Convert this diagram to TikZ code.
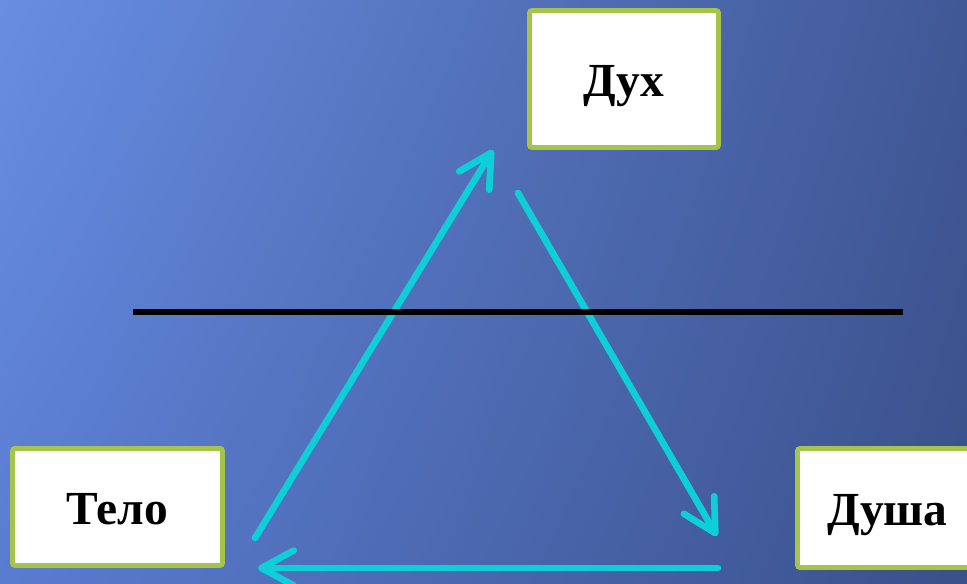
\documentclass[tikz,border=0pt]{standalone}
\usepackage{fontspec}
\setmainfont{Liberation Serif}
\usetikzlibrary{arrows.meta,shadings}

\definecolor{boxgreen}{RGB}{166,196,74}
\definecolor{arrowcyan}{RGB}{14,206,216}
\definecolor{bgtl}{RGB}{104,142,226}
\definecolor{bgtr}{RGB}{64,88,150}
\definecolor{bgbl}{RGB}{90,124,208}
\definecolor{bgbr}{RGB}{58,80,138}

\begin{document}
\begin{tikzpicture}[x=0.2mm, y=-0.2mm,
    part/.style={draw=boxgreen, fill=white, line width=2.8pt, rounded corners=1.5pt,
                 text height=20pt, text depth=0pt,
                 font=\bfseries\fontsize{27}{32}\selectfont},
    link/.style={arrowcyan, line width=3.8pt, line cap=round,
                 -{Straight Barb[length=6.5mm, width=7mm, round]}}]
                % background
                \useasboundingbox (0,0) rectangle (967,584);
                \shade[upper left=bgtl, upper right=bgtr, lower left=bgbl, lower right=bgbr]
                    (0,0) rectangle (967,584);
                % boxes
                \node[part, minimum width=3.78cm, minimum height=2.74cm] (dukh) at (624,79) {Дух};
                \node[part, minimum width=4.2cm, minimum height=2.34cm] (telo) at (117.5,507) {Тело};
                \node[part, minimum width=3.6cm, minimum height=2.38cm] (dusha) at (887.5,508) {Душа};
                % arrow ends
                \coordinate (telo-out) at (255,538);
                \coordinate (dukh-in) at (493,150);
                \coordinate (dukh-out) at (518,193);
                \coordinate (dusha-in) at (717,536);
                \coordinate (dusha-out) at (718,568);
                \coordinate (telo-in) at (258,568);
                \draw[link] (telo-out) -- (dukh-in);
                \draw[link] (dukh-out) -- (dusha-in);
                \draw[link] (dusha-out) -- (telo-in);
                % dividing line
                \coordinate (bar-l) at (133,312);
                \coordinate (bar-r) at (903,312);
                \draw[line width=3.4pt] (bar-l) -- (bar-r);
            \end{tikzpicture}
\end{document}
